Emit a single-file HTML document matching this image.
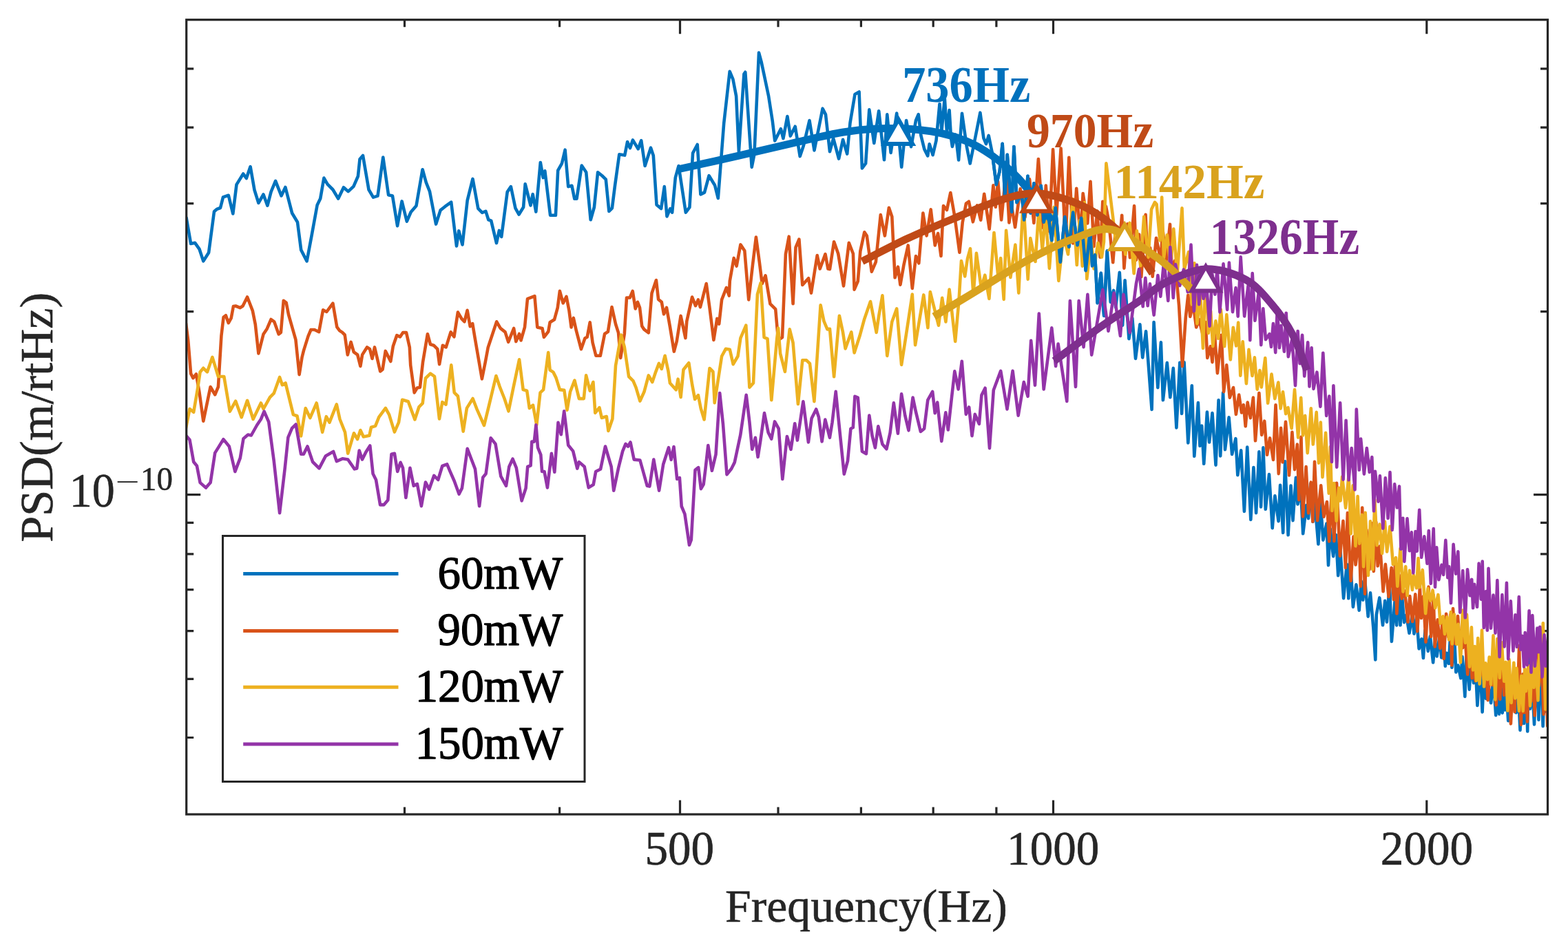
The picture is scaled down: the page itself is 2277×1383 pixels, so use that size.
<!DOCTYPE html>
<html><head><meta charset="utf-8"><title>PSD plot</title>
<style>
html,body{margin:0;padding:0;background:#fff;width:2277px;height:1383px;overflow:hidden}
svg{display:block}
text{font-family:"Liberation Serif","Times New Roman",serif}
</style></head><body>
<svg width="2277" height="1383" viewBox="0 0 2277 1383">
<rect x="0" y="0" width="2277" height="1383" fill="#fff"/>

<path fill="none" stroke="#262626" stroke-width="3.2" d="M587.5,1183.0 v-10.5 M587.5,28.7 v10.5 M812.6,1183.0 v-10.5 M812.6,28.7 v10.5 M1130.0,1183.0 v-10.5 M1130.0,28.7 v10.5 M1250.4,1183.0 v-10.5 M1250.4,28.7 v10.5 M1355.2,1183.0 v-10.5 M1355.2,28.7 v10.5 M1446.9,1183.0 v-10.5 M1446.9,28.7 v10.5 M987.5,1183.0 v-20.5 M987.5,28.7 v20.5 M1529.5,1183.0 v-20.5 M1529.5,28.7 v20.5 M2071.8,1183.0 v-20.5 M2071.8,28.7 v20.5 M270.7,99.8 h10.5 M2247.5,99.8 h-10.5 M270.7,185.2 h10.5 M2247.5,185.2 h-10.5 M270.7,295.6 h10.5 M2247.5,295.6 h-10.5 M270.7,452.6 h10.5 M2247.5,452.6 h-10.5 M270.7,759.4 h10.5 M2247.5,759.4 h-10.5 M270.7,804.8 h10.5 M2247.5,804.8 h-10.5 M270.7,856.7 h10.5 M2247.5,856.7 h-10.5 M270.7,916.6 h10.5 M2247.5,916.6 h-10.5 M270.7,986.3 h10.5 M2247.5,986.3 h-10.5 M270.7,1071.5 h10.5 M2247.5,1071.5 h-10.5 M270.7,718.7 h20.5 M2247.5,718.7 h-20.5"/>
<text transform="translate(1314.20,100.70) scale(1.0056,1.0773) translate(-4.00,44.00)" font-size="68" font-weight="bold" fill="#0071BC">736Hz</text>
<text transform="translate(1492.90,166.90) scale(0.9967,1.0705) translate(-2.00,44.00)" font-size="68" font-weight="bold" fill="#C04A17">970Hz</text>
<text transform="translate(1622.60,241.40) scale(1.0163,1.0591) translate(-5.00,44.00)" font-size="68" font-weight="bold" fill="#D9A21E">1142Hz</text>
<text transform="translate(1761.80,321.40) scale(0.9925,1.0773) translate(-5.00,44.00)" font-size="68" font-weight="bold" fill="#7E2F8E">1326Hz</text>
<defs><clipPath id="ax"><rect x="270.7" y="28.7" width="1976.8" height="1154.3"/></clipPath></defs>
<g fill="none" stroke-width="4.6" stroke-linejoin="round" stroke-linecap="round" clip-path="url(#ax)">
<path stroke="#0072BD" d="M270.6,316.3 277.1,354.0 283.0,352.7 289.5,361.8 295.3,379.4 303.1,367.0 311.0,307.2 314.8,303.9 320.0,302.0 324.0,286.4 331.8,283.8 338.3,310.4 343.5,268.1 353.2,252.5 357.8,259.0 363.6,242.1 369.5,276.0 375.4,294.8 382.5,282.5 388.4,298.7 393.6,278.6 400.1,262.9 408.5,284.4 414.4,272.0 424.2,309.8 432.0,322.8 437.2,363.1 445.6,379.4 452.8,341.0 460.6,298.1 465.2,288.5 470.4,258.6 475.6,267.7 483.4,275.5 491.2,288.5 499.0,272.2 505.6,278.1 513.4,270.9 519.9,256.0 522.5,231.2 527.0,226.0 535.5,275.5 542.0,286.6 548.5,284.6 556.3,228.6 564.1,283.3 570.0,284.6 577.1,328.2 583.6,292.4 590.8,321.7 596.7,308.0 604.5,298.9 613.6,246.2 618.8,265.1 624.0,278.1 633.1,325.6 639.6,305.4 646.1,300.2 655.2,293.7 663.0,357.5 666.3,335.4 671.5,355.5 678.7,291.1 686.5,259.9 694.3,302.8 700.2,308.9 705.4,306.9 709.3,319.3 713.2,320.6 721.0,353.1 724.9,334.9 728.2,344.0 736.7,278.9 741.9,271.1 748.4,302.3 753.6,311.5 760.1,301.0 762.7,267.2 770.5,298.4 773.7,282.2 778.3,307.6 784.8,236.0 788.7,258.1 791.3,248.3 799.1,312.8 806.9,312.8 810.2,247.7 816.0,237.3 820.6,217.7 825.2,271.1 830.4,269.8 834.3,288.7 837.5,288.7 844.7,240.5 851.2,250.3 857.7,319.3 862.9,301.0 868.1,250.3 874.6,255.5 879.8,260.7 884.4,306.9 888.9,302.3 892.8,271.1 899.3,224.3 907.2,225.6 911.1,206.0 915.0,215.1 918.9,203.4 926.7,216.4 931.2,204.1 936.6,241.0 945.0,214.7 948.8,226.0 953.5,297.4 960.1,303.1 964.8,271.1 968.5,314.4 973.2,303.1 976.1,308.7 980.8,258.0 985.5,241.0 995.8,308.7 1001.4,301.2 1006.1,222.3 1012.7,210.0 1017.4,282.4 1023.0,279.6 1029.6,255.2 1038.1,269.2 1042.8,288.0 1051.2,179.0 1059.7,103.8 1064.4,115.1 1069.1,139.5 1072.9,220.4 1080.4,107.6 1082.3,104.8 1091.7,242.9 1095.4,224.1 1102.0,76.6 1105.8,90.7 1116.1,139.5 1121.7,175.3 1125.2,204.5 1133.9,187.2 1137.4,201.1 1143.4,169.0 1147.8,197.6 1154.7,183.7 1161.7,227.1 1166.9,211.5 1175.5,175.0 1182.5,218.4 1194.6,157.7 1199.0,166.4 1205.0,220.2 1210.2,201.1 1218.1,230.6 1224.1,202.8 1230.2,223.6 1234.5,178.5 1241.5,136.9 1247.6,133.4 1251.9,244.5 1257.1,237.5 1262.3,159.4 1269.3,208.0 1276.2,161.2 1284.0,232.3 1288.3,166.4 1293.6,221.9 1302.2,164.6 1309.2,242.7 1316.1,175.0 1323.1,213.2 1330.0,175.0 1333.7,166.1 1337.4,196.9 1342.3,216.6 1347.2,226.4 1349.7,209.2 1354.6,225.2 1359.5,204.3 1364.5,151.0 1367.5,190.0 1371.8,142.5 1375.0,192.0 1378.6,160.0 1381.0,200.0 1382.9,212.9 1387.8,195.7 1392.1,232.5 1397.0,164.9 1403.8,212.9 1408.7,237.5 1416.1,200.6 1423.4,163.7 1428.4,200.6 1432.0,209.2 1435.7,196.9 1440.7,221.5 1446.8,268.2 1451.7,248.5 1455.7,208.8 1459.3,288.6 1462.7,224.8 1469.2,307.9 1472.4,213.1 1476.6,294.1 1483.8,280.9 1487.1,319.5 1492.5,255.8 1496.6,309.6 1501.5,266.3 1506.5,312.5 1511.7,269.7 1515.7,322.8 1520.7,301.6 1527.3,349.1 1532.7,301.7 1539.8,380.8 1546.3,315.1 1552.3,358.8 1558.2,308.5 1564.6,356.1 1570.2,316.7 1576.7,393.1 1583.1,334.4 1586.2,386.3 1590.1,370.3 1593.7,440.1 1598.8,396.9 1603.2,458.8 1607.8,364.5 1612.7,438.9 1617.1,421.9 1620.2,446.4 1625.8,395.8 1630.1,472.6 1633.6,407.2 1639.4,492.1 1644.3,462.0 1649.0,520.9 1655.4,471.4 1659.2,519.4 1664.1,481.4 1672.6,595.0 1675.6,468.1 1681.3,563.2 1685.9,497.3 1688.9,581.3 1694.8,527.1 1699.3,577.3 1703.8,534.9 1708.4,621.5 1713.3,526.8 1716.1,600.9 1719.6,526.4 1725.3,643.4 1730.8,560.2 1734.3,662.8 1739.9,585.1 1742.5,647.8 1745.2,618.5 1748.2,673.8 1752.9,598.6 1756.1,642.5 1760.5,600.1 1765.5,675.7 1769.6,581.2 1772.2,662.4 1776.1,570.5 1779.0,653.1 1784.6,606.4 1789.1,660.0 1794.4,637.2 1797.3,690.2 1802.2,654.3 1806.9,742.9 1811.2,649.6 1816.3,755.0 1820.4,679.1 1824.1,745.2 1828.4,656.4 1831.1,736.4 1834.4,650.3 1837.8,739.8 1843.0,689.1 1847.7,767.2 1851.4,720.4 1856.6,757.1 1859.1,704.8 1863.2,774.0 1866.1,670.2 1870.6,777.3 1874.5,705.5 1877.5,756.1 1881.9,693.9 1884.5,732.5 1888.9,710.2 1892.2,775.3 1897.1,734.0 1900.0,753.1 1903.2,702.7 1906.5,757.9 1909.4,731.0 1914.4,790.5 1917.7,729.9 1921.4,784.6 1926.5,760.5 1929.0,821.1 1931.7,768.2 1936.1,808.1 1940.0,777.0 1943.2,836.1 1946.2,796.4 1951.1,869.1 1955.8,819.8 1958.3,869.3 1960.5,808.2 1964.9,881.6 1969.4,849.3 1973.7,886.7 1976.8,844.5 1979.2,871.6 1982.0,842.0 1986.7,895.6 1990.0,861.4 1994.4,912.9 1997.3,958.5 1998.8,892.8 2003.3,868.4 2008.0,908.3 2011.2,872.9 2013.9,903.6 2017.9,847.6 2020.9,931.9 2025.5,874.0 2028.1,908.4 2031.4,855.3 2033.5,908.3 2035.5,859.7 2039.0,904.1 2042.2,893.5 2046.5,919.8 2051.0,892.0 2053.4,920.6 2057.0,896.4 2060.6,942.4 2064.3,928.3 2066.9,956.0 2069.5,915.4 2073.8,945.9 2076.9,924.3 2081.1,962.5 2083.9,931.4 2086.6,953.4 2090.5,924.1 2093.2,955.4 2096.4,928.1 2098.8,967.8 2100.7,948.7 2103.9,964.0 2105.9,928.1 2108.4,969.8 2112.1,927.0 2114.3,976.5 2117.3,966.5 2121.3,985.2 2123.5,954.1 2127.3,1011.9 2129.8,946.7 2133.7,1001.7 2136.1,965.3 2140.0,992.1 2141.8,948.4 2145.4,1024.9 2149.2,959.7 2152.6,1034.5 2154.7,983.2 2158.0,1015.0 2161.2,993.8 2165.1,1021.2 2168.6,985.6 2172.2,1039.1 2174.9,1001.9 2177.1,1037.4 2178.8,996.4 2181.7,1035.7 2183.5,999.8 2185.4,1031.5 2187.6,1003.8 2190.2,1047.2 2193.1,1011.7 2195.9,1023.5 2198.6,984.7 2201.7,1035.4 2204.8,1003.8 2207.5,1060.7 2209.5,989.1 2213.0,1051.0 2216.6,999.0 2218.2,1062.5 2220.0,951.9 2221.9,1029.7 2225.0,992.0 2228.0,1052.4 2231.3,968.4 2234.4,1045.7 2237.1,942.7 2240.6,1055.0 2243.3,972.5 2245.2,1033.7 2247.9,987.2 2250.8,1016.0"/>
<path stroke="#D95319" d="M270.0,469.9 273.2,494.6 277.1,542.8 280.4,549.3 284.9,543.4 289.5,570.0 295.3,611.8 305.6,562.0 312.2,573.3 316.9,562.0 321.4,488.1 324.6,460.8 327.9,458.2 331.8,469.2 335.7,462.1 338.9,445.1 342.2,444.5 348.7,447.1 352.6,444.5 359.1,431.5 366.9,451.7 370.8,471.2 375.4,513.5 382.5,485.5 387.7,477.7 393.6,464.0 398.2,467.3 404.7,485.5 407.9,482.9 411.8,436.7 415.7,439.9 419.0,456.9 429.4,493.3 434.6,544.1 438.5,519.3 441.1,508.9 447.6,488.1 451.5,479.0 456.7,479.0 463.2,482.2 469.1,450.3 474.3,453.0 483.4,440.6 489.3,475.1 493.2,480.3 497.1,482.9 500.7,486.5 504.8,515.4 509.6,496.9 513.7,511.3 519.2,515.4 523.4,531.9 526.1,515.4 533.0,504.4 537.1,507.2 540.5,520.9 544.0,504.4 552.2,539.4 555.6,536.7 559.8,509.9 567.3,525.0 570.8,503.0 576.2,487.2 581.1,489.3 585.2,483.1 590.0,483.1 594.8,504.4 596.2,530.5 601.7,570.4 605.8,563.5 609.9,562.8 614.0,526.4 620.9,485.2 625.0,500.3 629.8,501.7 635.3,507.2 638.1,529.1 642.9,501.7 647.7,504.4 654.6,482.4 659.4,489.3 664.9,453.6 670.4,463.2 674.5,467.3 678.6,450.8 682.7,474.2 686.2,470.1 689.6,490.7 699.9,550.4 704.7,526.4 708.8,504.4 714.3,487.9 721.2,467.3 726.7,476.9 733.6,482.4 738.2,496.9 746.1,477.0 749.3,496.1 754.1,485.0 756.5,494.5 762.0,475.4 766.0,434.1 776.4,430.1 780.3,475.4 787.5,477.0 789.9,489.7 796.2,481.8 798.6,468.3 805.0,464.3 809.8,446.8 812.9,422.9 817.7,440.4 822.5,430.9 826.5,451.6 829.6,475.4 832.8,461.9 836.8,480.2 843.9,507.2 849.5,491.3 852.7,489.7 856.7,468.3 860.6,497.7 865.4,516.8 871.8,516.8 878.1,485.0 882.9,481.8 888.5,446.0 894.0,470.7 898.0,483.4 901.2,520.0 906.8,485.0 910.0,432.5 914.7,432.5 918.7,422.9 922.7,448.4 925.9,438.8 929.0,446.8 932.2,473.8 935.4,478.6 941.8,483.4 946.5,426.1 952.9,407.0 956.1,434.9 960.8,438.8 964.0,456.3 968.0,446.8 972.9,474.5 978.8,510.6 982.7,496.0 988.6,458.9 995.4,491.1 997.3,466.7 1005.1,431.5 1010.0,444.2 1013.9,435.4 1016.9,446.2 1025.7,412.0 1030.5,447.2 1036.4,494.0 1041.3,462.8 1044.2,470.6 1048.1,435.4 1054.9,417.9 1058.8,429.6 1059.8,408.1 1065.7,374.9 1069.6,386.6 1075.4,355.4 1081.3,364.2 1087.2,435.4 1093.0,384.7 1097.9,344.6 1102.8,380.8 1106.7,412.0 1111.6,400.3 1118.4,441.3 1126.2,449.1 1130.1,494.0 1136.0,490.1 1140.9,369.1 1145.7,343.7 1151.6,441.3 1155.5,359.3 1160.4,347.6 1165.3,414.0 1174.1,404.2 1178.0,425.7 1186.7,371.0 1190.7,390.5 1198.5,369.1 1202.4,390.5 1205.0,391.1 1211.1,351.2 1217.2,368.5 1225.0,415.4 1232.8,352.9 1238.9,368.5 1240.6,420.6 1245.8,408.5 1249.3,365.1 1255.3,337.3 1258.8,342.5 1265.8,394.6 1271.8,380.7 1278.8,312.1 1284.9,342.5 1290.9,301.7 1295.3,314.7 1299.6,403.3 1304.0,387.6 1307.4,413.7 1312.6,384.2 1318.7,356.4 1324.8,418.9 1330.0,372.0 1334.3,382.4 1340.4,309.5 1345.6,342.5 1351.7,304.3 1357.8,356.4 1362.1,339.0 1366.5,372.0 1370.0,299.1 1375.0,305.0 1380.3,280.0 1386.4,314.7 1393.4,366.8 1397.7,323.4 1402.9,295.6 1406.9,292.8 1412.9,322.3 1419.0,298.4 1424.2,319.7 1429.2,281.7 1436.7,332.7 1442.4,269.4 1445.8,300.8 1449.2,263.7 1454.1,319.5 1461.2,247.6 1465.4,323.4 1468.7,297.0 1474.1,330.1 1481.6,274.2 1488.5,315.7 1495.1,260.4 1501.4,323.9 1507.9,231.0 1515.0,331.3 1518.8,269.6 1523.8,336.0 1529.1,217.0 1534.2,312.3 1540.6,215.6 1547.4,353.3 1552.3,228.8 1558.2,353.5 1563.2,273.8 1569.0,346.3 1572.7,281.0 1579.3,324.4 1583.5,263.7 1588.4,358.0 1593.4,306.5 1597.5,373.6 1601.3,292.9 1606.0,300.0 1609.8,319.1 1616.2,381.3 1619.9,334.0 1625.2,357.9 1629.2,312.7 1632.4,389.7 1637.3,325.3 1640.9,374.3 1647.1,299.1 1650.0,377.6 1654.2,340.6 1657.3,402.3 1663.6,311.9 1666.5,381.1 1670.2,360.1 1673.7,401.8 1679.0,345.7 1685.4,376.9 1688.6,335.1 1693.6,378.2 1699.0,325.7 1701.8,393.7 1706.2,378.6 1712.1,444.0 1717.0,532.0 1721.8,461.0 1725.3,428.8 1728.3,460.0 1732.5,440.8 1737.2,475.5 1741.2,464.0 1747.1,488.0 1750.6,467.9 1753.3,520.0 1757.8,503.1 1760.5,526.1 1763.6,481.5 1767.9,542.1 1773.8,486.8 1777.1,569.1 1781.2,530.2 1785.8,577.7 1791.0,563.0 1794.9,602.0 1799.2,573.5 1803.0,599.4 1805.9,588.2 1808.7,619.2 1811.7,584.6 1815.9,607.2 1819.9,577.5 1823.0,640.3 1828.4,571.0 1832.2,631.9 1836.2,611.7 1840.0,660.8 1844.1,636.4 1849.0,667.9 1852.5,588.2 1856.8,688.2 1860.1,621.9 1862.5,671.5 1867.0,612.7 1872.0,690.5 1876.4,627.9 1880.0,682.1 1883.8,645.5 1886.3,726.1 1889.5,634.7 1892.0,750.4 1896.6,678.1 1900.1,745.4 1903.7,700.6 1906.3,757.6 1909.0,670.8 1913.1,756.2 1918.2,705.3 1922.4,750.7 1926.9,729.0 1930.2,786.5 1933.7,718.1 1937.4,786.1 1941.0,701.7 1945.9,807.7 1950.5,756.8 1954.0,824.8 1956.9,745.0 1961.7,843.8 1965.5,779.5 1968.6,820.5 1973.6,777.8 1975.8,851.8 1978.2,737.5 1982.1,862.7 1984.5,769.9 1988.5,827.4 1992.4,760.2 1994.8,830.0 1998.3,758.6 2000.7,822.3 2004.1,793.2 2008.6,859.3 2011.9,819.9 2016.6,866.9 2020.7,824.7 2023.9,871.1 2025.9,820.0 2028.4,891.5 2031.7,835.4 2035.6,869.7 2040.0,858.5 2044.5,903.6 2047.3,866.1 2051.2,903.0 2055.3,863.2 2058.3,917.3 2061.9,852.8 2063.9,898.0 2067.0,866.4 2070.5,932.6 2074.5,852.6 2078.2,924.9 2081.6,864.8 2083.7,939.5 2087.6,900.4 2091.3,941.9 2094.6,903.2 2096.7,957.0 2100.1,891.7 2103.3,925.4 2106.2,893.4 2108.2,966.5 2110.0,884.1 2113.4,935.3 2117.0,895.0 2119.6,930.5 2122.1,916.1 2124.0,941.1 2127.6,925.9 2131.2,979.8 2133.9,930.0 2137.7,985.3 2139.8,948.6 2142.6,989.1 2145.0,950.7 2148.9,983.3 2151.5,951.5 2154.2,986.4 2157.9,968.2 2160.7,1017.1 2163.6,976.3 2167.2,995.2 2169.6,948.8 2172.7,1024.3 2175.2,977.9 2178.3,1016.0 2180.8,943.9 2184.2,1009.9 2187.3,974.6 2189.9,1024.5 2192.0,983.0 2193.9,1051.4 2197.3,981.7 2199.6,1034.1 2201.4,973.4 2203.9,1012.8 2206.1,938.1 2208.7,1052.8 2211.6,979.4 2213.4,1035.2 2215.5,976.1 2217.9,1048.5 2220.2,967.0 2223.4,1019.0 2226.3,928.8 2228.6,1039.5 2231.9,933.1 2234.9,996.0 2238.4,945.5 2241.6,1037.7 2245.1,967.0 2247.2,1054.8 2249.9,948.1"/>
<path stroke="#EDB120" d="M269.9,622.2 275.5,594.0 281.2,598.7 286.8,565.8 290.6,540.4 295.3,534.8 300.9,540.4 308.4,518.8 316.9,547.0 325.3,547.0 333.8,597.7 342.2,582.7 350.7,606.2 359.1,581.8 367.6,609.0 378.9,585.5 382.6,594.0 392.0,577.1 397.7,571.4 406.1,547.9 409.9,559.2 414.6,556.4 425.9,602.4 431.5,604.3 437.1,633.4 443.7,593.0 450.3,607.1 459.7,585.5 468.2,627.8 473.8,605.2 478.5,613.7 488.8,587.4 493.5,609.0 501.0,627.8 505.2,658.8 513.9,629.3 519.1,638.0 523.4,625.0 527.8,634.5 536.4,632.8 539.0,620.7 545.1,618.9 550.3,605.9 559.9,592.9 565.1,602.4 572.9,627.6 579.0,613.7 584.2,580.7 592.8,583.3 602.4,609.4 608.5,591.1 613.7,585.9 618.0,549.5 625.0,542.6 631.0,546.9 638.0,608.5 642.3,584.2 647.5,587.7 655.3,530.4 659.7,570.3 664.9,575.5 672.7,626.7 677.9,592.9 686.6,579.0 692.6,594.6 703.0,618.0 710.0,589.4 720.4,546.0 725.6,561.6 732.5,579.0 738.5,597.3 745.4,563.5 754.1,522.3 759.7,566.1 765.2,567.7 768.8,593.0 774.0,588.6 779.3,617.3 784.5,570.4 789.1,566.1 796.2,512.0 798.6,537.5 803.4,540.6 807.4,548.6 812.9,566.1 819.3,566.9 823.5,595.6 828.0,569.3 834.4,552.6 840.9,579.1 847.8,579.1 851.1,545.4 856.7,567.7 861.4,555.0 864.3,599.9 870.4,592.1 873.8,606.9 880.8,605.1 883.4,625.9 889.4,608.6 894.0,531.1 902.0,486.6 906.8,504.1 913.1,547.0 919.5,553.4 923.5,562.9 929.4,582.6 935.4,569.3 941.8,545.4 947.3,555.0 952.1,540.6 956.9,527.9 960.8,535.9 965.6,516.8 970.4,539.0 972.9,556.5 981.7,566.3 984.6,550.7 988.6,577.0 992.5,537.0 1000.3,527.2 1005.1,558.5 1009.1,580.0 1013.9,574.1 1017.8,593.6 1022.6,609.5 1030.5,535.0 1035.4,539.9 1037.7,585.1 1048.1,517.5 1054.0,506.7 1059.8,507.7 1064.7,529.2 1071.5,517.5 1075.4,491.1 1083.3,472.6 1088.4,562.6 1094.0,556.5 1099.9,427.6 1104.7,411.0 1109.6,490.1 1114.5,492.1 1120.3,581.3 1128.2,492.1 1130.1,476.5 1133.1,513.6 1139.9,539.9 1146.7,478.4 1151.6,497.9 1158.9,587.0 1165.3,523.3 1171.1,523.3 1176.0,528.2 1182.4,583.2 1191.6,443.3 1196.5,466.7 1201.4,478.4 1205.0,477.9 1211.1,547.2 1218.9,458.8 1224.1,483.1 1227.6,506.4 1236.3,482.3 1240.6,512.5 1248.4,488.3 1255.3,463.2 1264.0,438.0 1272.7,483.0 1276.2,458.8 1281.4,429.3 1288.3,516.9 1295.3,467.5 1302.2,448.4 1309.1,529.9 1316.1,484.9 1324.8,427.6 1329.1,501.2 1341.3,428.4 1347.4,476.2 1350.8,424.1 1363.0,472.7 1368.2,432.8 1373.4,467.5 1378.6,420.6 1387.2,496.0 1392.5,436.3 1396.0,379.0 1401.2,401.5 1405.0,375.5 1409.0,361.1 1413.5,428.7 1417.9,367.8 1424.9,418.6 1430.3,399.6 1436.4,433.9 1443.5,338.0 1449.6,404.1 1453.2,375.0 1457.7,434.9 1461.1,334.9 1467.4,403.0 1474.4,355.6 1479.3,425.6 1485.9,289.0 1492.7,405.7 1496.3,346.0 1503.5,380.0 1508.5,305.5 1513.7,362.6 1518.4,311.1 1523.9,389.9 1530.7,300.8 1537.3,407.9 1544.4,341.0 1551.0,369.5 1557.9,289.0 1563.8,385.0 1567.6,320.3 1571.8,386.6 1575.0,294.1 1578.3,405.1 1584.5,348.5 1588.6,390.5 1594.5,352.9 1599.9,373.6 1603.0,351.3 1606.4,237.2 1616.0,314.4 1620.1,350.2 1623.3,329.6 1626.9,358.8 1631.3,338.1 1634.3,369.6 1640.5,323.7 1646.7,397.3 1650.9,335.2 1656.2,386.0 1661.2,314.9 1667.5,373.7 1672.1,303.9 1677.0,293.8 1679.6,296.8 1684.4,349.5 1687.2,286.5 1690.0,374.4 1694.9,341.2 1699.9,388.5 1704.3,332.6 1709.5,399.4 1716.5,302.4 1719.9,391.1 1726.0,366.0 1730.7,442.2 1734.5,382.4 1738.4,470.2 1743.1,426.3 1747.0,506.0 1751.1,394.0 1754.8,483.9 1758.1,451.7 1761.3,503.1 1765.4,466.4 1769.1,491.8 1772.8,449.5 1778.2,503.2 1781.3,457.1 1786.8,522.5 1790.8,475.7 1795.1,502.4 1798.2,468.5 1801.3,545.6 1804.7,496.2 1809.9,557.3 1813.5,507.9 1818.5,545.9 1821.9,519.4 1825.7,565.6 1829.4,538.0 1831.8,562.4 1837.3,520.1 1841.1,585.7 1846.5,543.5 1851.3,579.1 1856.3,555.5 1859.6,593.5 1863.0,569.3 1867.2,601.3 1870.4,592.0 1875.6,622.2 1880.0,566.0 1885.1,635.7 1889.2,577.9 1892.0,632.5 1895.2,603.9 1898.7,658.1 1903.8,593.3 1906.8,645.5 1911.7,598.9 1915.0,672.7 1917.8,613.6 1920.5,693.2 1925.1,628.8 1929.7,716.7 1931.9,649.0 1934.3,742.0 1937.3,702.0 1940.7,756.8 1944.2,708.7 1946.6,727.4 1949.1,692.5 1954.1,737.8 1958.6,690.7 1961.7,775.5 1964.7,705.4 1968.5,793.2 1971.6,721.1 1974.1,789.6 1977.8,747.9 1980.1,823.1 1982.7,744.9 1986.9,836.0 1990.0,757.4 1993.3,827.1 1996.4,726.1 1999.6,792.2 2003.5,761.5 2007.0,804.0 2011.0,757.8 2014.1,801.5 2018.5,764.7 2022.9,820.0 2027.0,810.1 2029.3,851.7 2033.5,796.8 2037.5,859.6 2041.2,823.0 2043.5,865.3 2046.9,828.9 2050.9,857.0 2052.9,835.2 2057.1,854.2 2059.5,811.1 2061.8,853.1 2065.8,827.9 2070.1,891.2 2073.5,854.9 2077.3,872.6 2080.5,857.4 2084.2,883.3 2088.4,863.9 2091.6,905.6 2095.5,895.3 2098.0,921.1 2101.3,896.3 2104.0,929.4 2106.8,889.1 2108.8,935.5 2111.8,892.5 2115.4,935.9 2117.6,906.8 2121.0,962.5 2124.0,886.5 2127.9,933.9 2130.0,892.8 2134.0,968.6 2136.9,911.4 2139.1,973.4 2141.5,939.0 2143.9,989.0 2146.2,927.0 2148.6,993.7 2152.0,915.6 2155.0,997.5 2157.3,963.4 2160.1,987.2 2162.7,954.6 2165.1,994.3 2168.5,923.4 2171.3,1016.5 2174.3,928.0 2177.8,984.8 2180.7,933.2 2184.2,989.8 2186.7,961.8 2189.4,1032.4 2191.5,958.1 2194.6,1021.0 2198.3,962.8 2200.3,1014.4 2202.5,970.9 2205.9,1032.8 2209.4,981.8 2211.7,1032.9 2214.2,971.9 2215.9,1004.1 2219.3,967.2 2222.0,1025.5 2225.0,952.8 2227.5,998.8 2230.0,958.1 2233.5,1017.5 2235.9,933.1 2238.0,974.2 2240.8,905.2 2244.2,1030.4 2245.9,934.6 2249.0,1006.2 2252.0,951.2"/>
<path stroke="#0072BD" d="M1440.7,221.5 1446.8,268.2 1451.7,248.5 1455.7,208.8 1459.3,288.6 1462.7,224.8 1469.2,307.9 1472.4,213.1 1476.6,294.1 1483.8,280.9 1487.1,319.5 1492.5,255.8 1496.6,309.6 1501.5,266.3 1506.5,312.5 1511.7,269.7 1515.7,322.8 1520.7,301.6 1527.3,349.1 1532.7,301.7 1539.8,380.8 1546.3,315.1 1552.3,358.8 1558.2,308.5 1564.6,356.1 1570.2,316.7 1576.7,393.1 1583.1,334.4 1586.2,386.3 1590.1,370.3 1593.7,440.1 1598.8,396.9 1603.2,458.8 1607.8,364.5"/>
<path stroke="#9334A8" d="M269.9,632.5 275.5,639.1 281.2,671.0 285.9,676.7 290.6,701.1 299.0,708.6 305.6,701.1 312.2,657.9 316.9,650.4 324.4,638.1 332.8,648.5 341.3,685.1 348.8,665.4 353.5,637.2 360.1,631.6 364.8,632.5 373.2,617.5 378.9,609.0 383.6,597.7 390.2,612.8 397.7,669.1 406.1,745.3 413.7,680.4 418.4,635.3 424.0,622.2 429.6,616.5 437.1,659.7 440.9,659.7 446.5,648.5 454.1,671.0 463.5,680.4 472.8,662.6 484.1,656.0 488.8,670.1 497.3,666.3 505.2,667.5 514.8,681.4 518.2,680.5 521.7,654.5 526.0,667.5 531.2,657.1 537.3,647.5 541.6,688.3 546.0,697.0 552.1,733.4 557.3,733.4 563.3,726.5 568.5,659.7 572.9,658.8 577.2,684.9 581.6,671.8 585.0,679.7 589.4,723.0 595.4,679.7 600.7,705.7 605.9,703.1 611.9,735.2 618.0,700.5 623.2,710.9 630.2,690.9 636.2,697.0 642.3,677.0 649.2,674.4 653.6,684.9 659.7,698.7 666.6,717.8 670.9,709.2 678.7,651.9 684.0,665.8 690.0,681.4 696.1,735.2 701.3,693.5 705.6,688.3 712.6,636.3 719.5,644.9 727.3,691.8 735.0,705.8 739.3,678.0 744.5,666.7 749.8,679.7 757.6,727.5 763.6,709.2 766.2,678.0 770.6,676.3 772.3,641.6 775.8,641.6 778.4,617.3 781.0,650.2 785.3,660.7 787.1,685.0 790.5,685.0 794.9,708.4 800.9,658.9 805.3,685.8 810.5,613.8 814.8,631.2 819.2,597.3 825.2,646.8 832.2,655.4 838.3,680.6 840.9,671.1 848.7,678.0 854.7,708.4 861.7,704.0 865.2,685.0 872.1,681.5 879.0,648.5 887.7,678.0 891.2,712.7 898.1,679.7 904.2,655.4 908.5,645.0 912.0,648.5 915.5,642.4 920.7,667.6 929.4,668.5 939.8,705.8 943.3,706.6 949.3,667.6 957.1,712.7 963.2,674.5 971.0,650.2 974.7,667.8 978.5,649.0 983.2,696.0 986.9,694.1 989.7,735.5 994.4,746.7 1001.0,791.8 1003.8,784.3 1009.5,682.8 1014.2,679.1 1017.9,710.1 1021.7,703.5 1024.5,681.0 1028.3,647.1 1033.9,683.8 1039.5,660.3 1045.2,571.0 1049.9,615.2 1055.5,689.4 1062.1,681.0 1066.8,671.6 1075.2,632.1 1083.7,573.8 1088.4,613.3 1092.2,652.8 1096.9,635.8 1100.6,664.0 1104.4,639.6 1110.0,600.1 1115.6,628.3 1120.3,637.7 1125.0,612.4 1130.7,622.7 1136.3,696.0 1142.9,634.0 1148.5,652.8 1154.2,615.2 1157.9,639.6 1166.4,583.2 1173.9,642.4 1178.6,607.7 1185.2,594.5 1188.9,605.8 1193.6,641.5 1198.3,609.5 1204.9,635.8 1208.5,614.0 1213.7,568.9 1218.0,612.3 1225.8,688.7 1231.0,669.6 1235.4,622.7 1238.8,621.0 1241.4,575.9 1245.8,577.6 1251.9,655.7 1257.9,659.2 1262.3,603.6 1266.6,633.1 1270.9,650.5 1275.3,619.2 1281.4,645.3 1287.4,652.2 1292.6,628.8 1297.8,585.4 1303.9,629.7 1309.1,572.4 1314.3,603.6 1319.5,625.3 1325.6,577.6 1330.0,598.4 1336.9,627.0 1342.1,622.7 1347.3,581.1 1354.2,568.9 1357.7,600.2 1361.2,584.5 1367.3,640.9 1373.3,599.3 1376.8,624.5 1382.0,577.6 1386.3,539.4 1391.6,565.4 1396.8,524.7 1402.8,601.9 1407.2,591.5 1411.5,633.1 1415.8,601.9 1421.9,615.8 1425.4,574.1 1430.6,563.7 1437.0,651.2 1442.8,566.7 1453.2,538.9 1462.5,594.4 1470.6,538.9 1478.7,603.7 1486.8,555.1 1492.6,575.9 1497.2,494.9 1503.0,559.7 1508.8,455.6 1515.7,565.5 1527.3,476.4 1533.1,531.9 1536.6,499.5 1549.3,582.9 1553.9,437.0 1562.0,562.0 1566.7,437.0 1573.6,504.2 1579.4,427.8 1585.2,515.7 1601.4,420.8 1609.5,481.0 1617.6,425.5 1626.9,488.0 1631.5,427.8 1640.7,483.3 1650.0,411.6 1654.0,391.1 1659.7,445.3 1663.3,403.9 1666.7,444.2 1669.9,412.2 1675.7,457.6 1681.4,400.1 1685.3,430.6 1690.3,379.4 1696.3,436.9 1699.3,359.1 1703.8,432.8 1707.1,384.1 1713.2,415.0 1718.9,391.5 1724.8,424.1 1729.5,355.6 1733.9,451.8 1738.0,384.8 1741.2,442.1 1744.9,398.8 1747.6,433.8 1752.4,419.0 1756.6,473.7 1760.4,398.3 1764.4,427.6 1767.6,389.9 1771.4,453.4 1776.5,383.3 1782.1,449.9 1784.9,381.6 1790.0,453.1 1794.6,418.1 1797.7,459.7 1801.7,373.3 1807.1,459.4 1812.7,413.7 1815.3,494.2 1818.7,397.1 1822.4,465.8 1827.9,424.2 1831.3,501.1 1834.3,448.3 1838.0,493.2 1843.5,485.2 1846.0,503.9 1848.9,470.1 1852.2,512.1 1854.9,447.1 1857.9,505.3 1860.4,473.0 1864.9,510.8 1867.7,454.7 1870.8,518.2 1876.3,493.0 1881.0,560.2 1884.6,481.0 1887.6,528.2 1891.1,486.7 1894.2,546.4 1899.2,497.3 1901.5,561.5 1904.6,505.2 1907.5,564.9 1912.4,540.7 1917.4,590.7 1921.3,512.7 1926.2,604.0 1930.3,575.6 1934.0,670.9 1936.4,560.2 1941.2,678.7 1946.1,585.2 1950.6,696.7 1954.6,610.7 1958.6,697.3 1962.7,651.1 1967.5,711.5 1969.8,594.6 1973.8,682.8 1976.1,637.5 1980.9,688.6 1984.8,651.0 1988.7,685.9 1992.3,664.1 1995.0,742.3 1997.0,684.9 2001.5,728.7 2003.9,691.4 2008.3,767.7 2011.8,694.3 2015.6,753.0 2018.5,686.0 2021.8,769.9 2025.2,703.4 2028.8,737.5 2032.0,706.5 2034.4,797.7 2037.3,752.7 2039.3,815.8 2043.5,753.3 2046.8,800.2 2049.8,773.4 2052.3,832.5 2055.5,772.0 2057.7,800.7 2061.2,740.7 2064.2,809.8 2068.3,779.3 2072.5,818.8 2074.8,771.0 2077.8,847.8 2081.7,768.1 2084.0,852.8 2086.2,795.3 2089.4,842.3 2093.5,820.7 2096.1,834.9 2099.3,784.9 2102.3,839.2 2104.3,823.1 2107.0,876.1 2110.6,790.9 2114.1,833.6 2117.3,801.3 2120.2,889.6 2124.2,829.1 2127.8,897.3 2131.0,827.2 2134.6,865.2 2137.2,841.7 2139.1,883.3 2141.2,848.9 2145.0,881.8 2147.6,818.6 2150.8,870.6 2152.7,815.5 2154.8,912.0 2158.0,859.1 2159.8,915.6 2161.5,825.7 2165.0,912.7 2168.5,864.5 2171.5,919.6 2174.3,843.1 2177.6,954.3 2181.4,864.0 2184.6,939.5 2187.9,846.8 2190.2,957.2 2193.8,873.3 2197.4,945.7 2200.5,893.2 2202.8,939.8 2205.8,867.0 2208.2,943.7 2210.6,923.8 2213.1,968.6 2214.7,919.0 2217.7,966.2 2220.6,887.4 2223.5,976.8 2225.3,894.0 2228.9,967.6 2232.4,912.6 2234.1,947.3 2236.2,910.7 2239.5,983.5 2242.6,922.2 2244.8,967.6 2248.2,925.1 2251.0,993.1"/>
</g>
<g fill="none" stroke-width="11" stroke-linejoin="round" stroke-linecap="butt">
<path stroke="#0071BC" d="M986.6,245.5 C1000.8,242.3 1045.0,232.6 1071.9,226.4 C1098.9,220.2 1122.8,214.3 1148.3,208.6 C1173.8,202.9 1201.4,195.7 1224.7,192.0 C1248.0,188.3 1266.8,186.7 1288.0,186.5 C1309.2,186.3 1332.8,187.8 1352.0,190.8 C1371.2,193.9 1388.2,198.9 1403.0,204.8 C1417.8,210.7 1428.3,217.3 1441.0,226.4 C1453.7,235.5 1464.9,243.8 1479.4,259.5 C1493.9,275.2 1519.7,310.5 1527.8,320.7"/>
<path stroke="#C04A17" d="M1252.0,379.6 C1263.0,374.1 1295.8,356.9 1317.8,346.6 C1339.8,336.3 1361.7,327.1 1383.7,318.0 C1405.7,308.9 1429.5,297.9 1449.6,291.7 C1469.7,285.5 1486.2,280.3 1504.5,280.7 C1522.8,281.1 1542.9,287.7 1559.4,293.9 C1575.9,300.1 1588.7,307.0 1603.3,318.0 C1617.9,329.0 1635.5,346.6 1647.2,359.8 C1658.9,373.0 1669.2,390.8 1673.6,397.0"/>
<path stroke="#D9A21E" d="M1356.3,459.7 C1368.2,452.6 1404.7,430.6 1427.6,416.9 C1450.5,403.2 1471.5,389.1 1493.5,377.4 C1515.5,365.7 1539.3,353.9 1559.4,346.6 C1579.5,339.3 1595.7,330.2 1614.0,333.5 C1632.3,336.8 1654.9,357.0 1669.2,366.4 C1683.5,375.8 1689.5,380.7 1700.0,390.0 C1710.5,399.3 1726.7,416.7 1732.0,422.0"/>
<path stroke="#7E2F8E" d="M1530.9,524.3 C1541.9,516.2 1576.0,490.5 1596.6,476.0 C1617.2,461.5 1638.5,448.3 1654.6,437.3 C1670.7,426.3 1677.1,417.9 1693.2,410.2 C1709.3,402.5 1731.9,391.5 1751.2,390.9 C1770.5,390.3 1793.1,397.7 1809.2,406.4 C1825.3,415.1 1836.5,429.9 1847.8,443.1 C1859.1,456.3 1868.4,469.8 1876.8,485.6 C1885.2,501.4 1894.5,529.1 1898.0,537.8"/>
</g>
<g fill="#fff" stroke-width="6" stroke-linejoin="miter">
<path stroke="#0071BC" d="M1304.7,173.6 L1325.1,209.0 L1284.3,209.0 Z"/>
<path stroke="#C04A17" d="M1505.5,271.4 L1525.9,306.8 L1485.1,306.8 Z"/>
<path stroke="#D9A21E" d="M1633.2,326.6 L1653.6,362.0 L1612.8,362.0 Z"/>
<path stroke="#7E2F8E" d="M1751.0,387.0 L1771.4,422.4 L1730.6,422.4 Z"/>
</g>
<rect x="270.7" y="28.7" width="1976.8" height="1154.3" fill="none" stroke="#262626" stroke-width="3.2"/>
<text transform="translate(940.50,1209.90) scale(1.0172,1.0636) translate(-4.00,43.00)" font-size="66" fill="#262626" stroke="#262626" stroke-width="0.6" stroke-linejoin="round">500</text>
<text transform="translate(1467.20,1209.90) scale(1.0168,1.0636) translate(-5.00,43.00)" font-size="66" fill="#262626" stroke="#262626" stroke-width="0.6" stroke-linejoin="round">1000</text>
<text transform="translate(2007.90,1210.00) scale(1.0181,1.0591) translate(-3.00,43.00)" font-size="66" fill="#262626" stroke="#262626" stroke-width="0.6" stroke-linejoin="round">2000</text>
<text transform="translate(1055.10,1292.60) scale(0.9956,0.9871) translate(-2.00,47.00)" font-size="68" fill="#262626" stroke="#262626" stroke-width="0.6" stroke-linejoin="round">Frequency(Hz)</text>
<text transform="translate(29.80,785.70) rotate(-90) scale(1.0006,0.9887) translate(-2.00,47.00)" font-size="68" fill="#262626" stroke="#262626" stroke-width="0.6" stroke-linejoin="round">PSD(m/rtHz)</text>
<text transform="translate(105.80,690.80) scale(1.0000,1.0591) translate(-5.00,43.00)" font-size="66" fill="#262626" stroke="#262626" stroke-width="0.6" stroke-linejoin="round">10</text>
<text transform="translate(171.20,699.00) scale(1.2478,0.7667) translate(-3.00,18.00)" font-size="50" fill="#262626">−</text>
<text transform="translate(208.10,679.90) scale(1.0195,1.0355) translate(-4.00,31.00)" font-size="46" fill="#262626" stroke="#262626" stroke-width="0.5" stroke-linejoin="round">10</text>
<rect x="323.5" y="778.5" width="525.5" height="357" fill="#fff" stroke="#262626" stroke-width="3"/>
<line x1="353.2" y1="833.4" x2="578.5" y2="833.4" stroke="#0072BD" stroke-width="5"/>
<line x1="353.2" y1="916.4" x2="578.5" y2="916.4" stroke="#D95319" stroke-width="5"/>
<line x1="353.2" y1="998.3" x2="578.5" y2="998.3" stroke="#EDB120" stroke-width="5"/>
<line x1="353.2" y1="1081" x2="578.5" y2="1081" stroke="#9334A8" stroke-width="5"/>
<text transform="translate(637.60,809.90) scale(0.9967,1.0043) translate(-2.00,45.00)" font-size="67" fill="#000" stroke="#000" stroke-width="1.3" stroke-linejoin="round">60mW</text>
<text transform="translate(637.60,892.10) scale(0.9967,1.0043) translate(-2.00,45.00)" font-size="67" fill="#000" stroke="#000" stroke-width="1.3" stroke-linejoin="round">90mW</text>
<text transform="translate(607.70,974.30) scale(0.9967,1.0043) translate(-5.00,45.00)" font-size="67" fill="#000" stroke="#000" stroke-width="1.3" stroke-linejoin="round">120mW</text>
<text transform="translate(607.70,1056.50) scale(0.9967,1.0043) translate(-5.00,45.00)" font-size="67" fill="#000" stroke="#000" stroke-width="1.3" stroke-linejoin="round">150mW</text>
</svg></body></html>
